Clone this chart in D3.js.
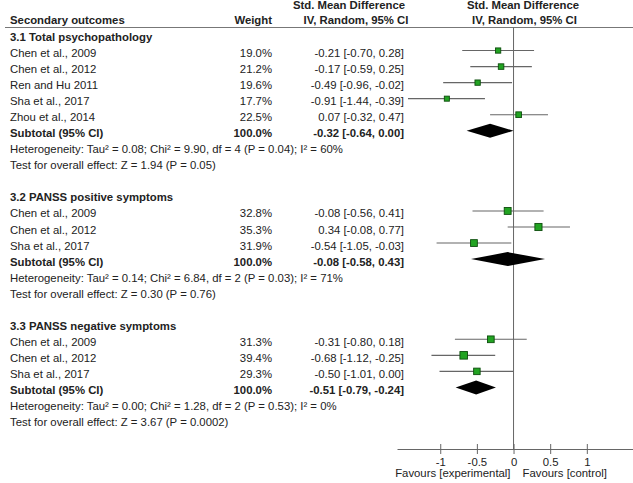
<!DOCTYPE html>
<html>
<head>
<meta charset="utf-8">
<script src="https://cdn.jsdelivr.net/npm/d3@7"></script>
<style>
  html, body { margin: 0; padding: 0; background: #fff; }
  svg { display: block; }
  text { font-family: "Liberation Sans", Arial, sans-serif; font-size: 11.35px; fill: #222; }
  .b { font-weight: bold; }
</style>
</head>
<body>
<svg id="chart" width="633" height="483"></svg>
<script>
// ---- data ----
const groupTitles = ["3.1 Total psychopathology", "3.2 PANSS positive symptoms", "3.3 PANSS negative symptoms"];
const studies = [
  ["Chen et al., 2009", "Chen et al., 2012", "Ren and Hu 2011", "Sha et al., 2017", "Zhou et al., 2014"],
  ["Chen et al., 2009", "Chen et al., 2012", "Sha et al., 2017"],
  ["Chen et al., 2009", "Chen et al., 2012", "Sha et al., 2017"]
];
const weights = [
  [19.0, 21.2, 19.6, 17.7, 22.5],
  [32.8, 35.3, 31.9],
  [31.3, 39.4, 29.3]
];
const smd = [
  [-0.21, -0.17, -0.49, -0.91, 0.07],
  [-0.08, 0.34, -0.54],
  [-0.31, -0.68, -0.50]
];
const lower = [
  [-0.70, -0.59, -0.96, -1.44, -0.32],
  [-0.56, -0.08, -1.05],
  [-0.80, -1.12, -1.01]
];
const upper = [
  [0.28, 0.25, -0.02, -0.39, 0.47],
  [0.41, 0.77, -0.03],
  [0.18, -0.25, 0.00]
];
const subtotalSmd = [-0.32, -0.08, -0.51];
const subtotalLower = [-0.64, -0.58, -0.79];
const subtotalUpper = [0.00, 0.43, -0.24];
const heterogeneity = [
  "Heterogeneity: Tau² = 0.08; Chi² = 9.90, df = 4 (P = 0.04); I² = 60%",
  "Heterogeneity: Tau² = 0.14; Chi² = 6.84, df = 2 (P = 0.03); I² = 71%",
  "Heterogeneity: Tau² = 0.00; Chi² = 1.28, df = 2 (P = 0.53); I² = 0%"
];
const overallTest = [
  "Test for overall effect: Z = 1.94 (P = 0.05)",
  "Test for overall effect: Z = 0.30 (P = 0.76)",
  "Test for overall effect: Z = 3.67 (P = 0.0002)"
];
const tickValues = [-1, -0.5, 0, 0.5, 1];
const tickLabels = ["-1", "-0.5", "0", "0.5", "1"];

// ---- layout ----
const svg = d3.select("#chart");
const x = d3.scaleLinear().domain([-1.59, 1.63]).range([397, 633]);
const y = d3.scaleLinear().domain([0, 24]).range([37, 422]); // row centres
const fmt = d3.format(".2f");
const f = v => fmt(v).replace("−", "-");
const ciText = (m, l, u) => `${f(m)} [${f(l)}, ${f(u)}]`;
const size = d3.scaleSqrt().domain([0, 100]).range([0, 12]);

const xLabel = 10, xWeight = 272, xCI = 404;
const base = 4;      // text baseline offset from row centre
const markDy = -2.5; // marks slightly above text centre
const lineCol = "#666";

// header
svg.append("text").attr("class", "b").attr("x", xLabel).attr("y", 24).text("Secondary outcomes");
svg.append("text").attr("class", "b").attr("x", xWeight).attr("y", 24).attr("text-anchor", "end").text("Weight");
svg.append("text").attr("class", "b").attr("x", 349).attr("y", 9).attr("text-anchor", "middle").text("Std. Mean Difference");
svg.append("text").attr("class", "b").attr("x", 356).attr("y", 24).attr("text-anchor", "middle").text("IV, Random, 95% CI");
svg.append("text").attr("class", "b").attr("x", 523).attr("y", 9).attr("text-anchor", "middle").text("Std. Mean Difference");
svg.append("text").attr("class", "b").attr("x", 524.5).attr("y", 24).attr("text-anchor", "middle").text("IV, Random, 95% CI");
svg.append("line").attr("x1", 5).attr("x2", 633).attr("y1", 27.5).attr("y2", 27.5)
  .attr("stroke", "#777").attr("stroke-width", 1.2);

// zero line
svg.append("line").attr("x1", x(0)).attr("x2", x(0)).attr("y1", 27.5).attr("y2", 449)
  .attr("stroke", lineCol).attr("stroke-width", 1);

let row = 0;
groupTitles.forEach((title, g) => {
  svg.append("text").attr("class", "b").attr("x", xLabel).attr("y", y(row) + base).text(title);
  row++;
  studies[g].forEach((s, i) => {
    const yy = y(row);
    svg.append("text").attr("x", xLabel).attr("y", yy + base).text(s);
    svg.append("text").attr("x", xWeight).attr("y", yy + base).attr("text-anchor", "end").text(weights[g][i].toFixed(1) + "%");
    svg.append("text").attr("x", xCI).attr("y", yy + base).attr("text-anchor", "end").text(ciText(smd[g][i], lower[g][i], upper[g][i]));
    const my = yy + markDy;
    svg.append("line").attr("x1", x(lower[g][i])).attr("x2", x(upper[g][i]))
      .attr("y1", my).attr("y2", my).attr("stroke", lineCol).attr("stroke-width", 1.1);
    const s2 = size(weights[g][i]);
    svg.append("rect").attr("x", x(smd[g][i]) - s2 / 2).attr("y", my - s2 / 2)
      .attr("width", s2).attr("height", s2)
      .attr("fill", "#22a322").attr("stroke", "#0d4d0d").attr("stroke-width", 0.9);
    row++;
  });
  // subtotal
  const yy = y(row);
  svg.append("text").attr("class", "b").attr("x", xLabel).attr("y", yy + base).text("Subtotal (95% CI)");
  svg.append("text").attr("class", "b").attr("x", xWeight).attr("y", yy + base).attr("text-anchor", "end").text("100.0%");
  svg.append("text").attr("class", "b").attr("x", xCI).attr("y", yy + base).attr("text-anchor", "end")
    .text(ciText(subtotalSmd[g], subtotalLower[g], subtotalUpper[g]));
  const dy = yy + markDy, h = 7;
  svg.append("path")
    .attr("d", `M${x(subtotalLower[g])},${dy} L${x(subtotalSmd[g])},${dy - h} L${x(subtotalUpper[g])},${dy} L${x(subtotalSmd[g])},${dy + h} Z`)
    .attr("fill", "#000");
  row++;
  svg.append("text").attr("x", xLabel).attr("y", y(row) + base).text(heterogeneity[g]);
  row++;
  svg.append("text").attr("x", xLabel).attr("y", y(row) + base).text(overallTest[g]);
  row += 2;
});

// axis
const axis = d3.axisBottom(x).tickValues(tickValues)
  .tickFormat((d, i) => tickLabels[i]).tickSizeInner(5).tickSizeOuter(0).tickPadding(4);
const ag = svg.append("g").attr("transform", "translate(0,449)").call(axis);
ag.select(".domain").attr("stroke", lineCol);
ag.selectAll(".tick line").attr("y1", -5).attr("y2", 5).attr("stroke", lineCol);
ag.selectAll(".tick text").attr("fill", "#222").style("font-size", "11.35px")
  .style("font-family", '"Liberation Sans", Arial, sans-serif');

svg.append("text").attr("x", x(0) - 3).attr("y", 477).attr("text-anchor", "end").text("Favours [experimental]");
svg.append("text").attr("x", x(0) + 9).attr("y", 477).text("Favours [control]");
</script>
</body>
</html>
